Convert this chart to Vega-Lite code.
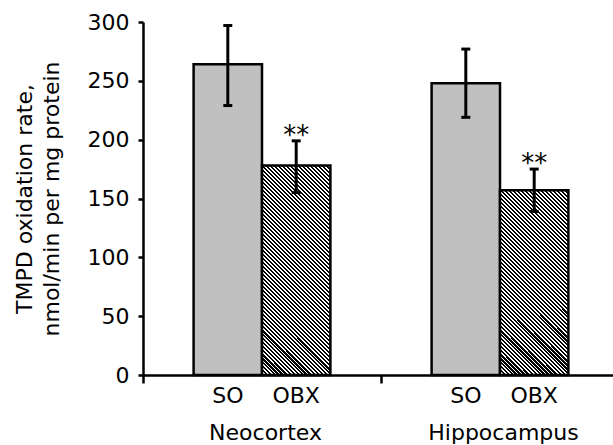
{
 "$schema": "https://vega.github.io/schema/vega-lite/v6.json",
 "width": 476,
 "height": 353,
 "autosize": {"type": "none"},
 "padding": {"left": 143, "top": 22, "right": -6, "bottom": 70},
 "background": "white",
 "config": {
  "view": {"stroke": null},
  "font": "DejaVu Sans",
  "axis": {"grid": false, "domainColor": "#000", "tickColor": "#000", "labelColor": "#000", "titleColor": "#000", "domainWidth": 2.5, "tickWidth": 2.5, "labelFontSize": 22, "titleFontSize": 22, "titleFontWeight": "normal", "labelFont": "DejaVu Sans", "titleFont": "DejaVu Sans"}
 },
 "data": {"values": [
  {"region": "Neocortex", "cond": "SO", "value": 264, "lo": 229, "hi": 297, "sig": ""},
  {"region": "Neocortex", "cond": "OBX", "value": 178, "lo": 155, "hi": 199, "sig": "**"},
  {"region": "Hippocampus", "cond": "SO", "value": 248, "lo": 219, "hi": 277, "sig": ""},
  {"region": "Hippocampus", "cond": "OBX", "value": 157, "lo": 139, "hi": 175, "sig": "**"}
 ]},
 "encoding": {
  "x": {"field": "region", "type": "nominal", "sort": ["Neocortex", "Hippocampus"],
        "scale": {"domain": ["Neocortex", "Hippocampus"], "paddingInner": 0, "paddingOuter": 0},
        "axis": {"title": null, "labelAngle": 0, "tickBand": "extent", "tickSize": 8, "labelPadding": 39, "labelOffset": 3}},
  "xOffset": {"field": "cond", "type": "nominal", "sort": ["SO", "OBX"], "scale": {"domain": ["SO", "OBX"], "paddingInner": 0, "paddingOuter": 0.74}}
 },
 "layer": [
  {"transform": [{"filter": "datum.cond === 'SO'"}],
   "mark": {"type": "bar", "fill": "#c0c0c0", "stroke": "#000", "strokeWidth": 2.5},
   "encoding": {"y": {"field": "value", "type": "quantitative", "stack": null, "scale": {"domain": [0, 300], "nice": false},
     "axis": {"title": ["TMPD oxidation rate,", "nmol/min per mg protein"], "values": [0, 50, 100, 150, 200, 250, 300], "tickSize": 5, "labelPadding": 9, "titlePadding": 24, "titleLineHeight": 27}}}},
  {"transform": [{"filter": "datum.cond === 'OBX' && datum.region === 'Neocortex'"}],
   "mark": {"type": "bar", "stroke": "#000", "strokeWidth": 2.5,
    "fill": {"gradient": "linear", "x1": 0, "y1": 1, "x2": 0.3946, "y2": -0.2083, "stops": [
{"offset":0,"color":"#000"},{"offset":0.0086,"color":"#000"},{"offset":0.0086,"color":"#fff"},{"offset":0.0143,"color":"#fff"},
{"offset":0.0143,"color":"#000"},{"offset":0.0229,"color":"#000"},{"offset":0.0229,"color":"#fff"},{"offset":0.0286,"color":"#fff"},
{"offset":0.0286,"color":"#000"},{"offset":0.0371,"color":"#000"},{"offset":0.0371,"color":"#fff"},{"offset":0.0429,"color":"#fff"},
{"offset":0.0429,"color":"#000"},{"offset":0.0514,"color":"#000"},{"offset":0.0514,"color":"#fff"},{"offset":0.0571,"color":"#fff"},
{"offset":0.0571,"color":"#000"},{"offset":0.0657,"color":"#000"},{"offset":0.0657,"color":"#fff"},{"offset":0.0714,"color":"#fff"},
{"offset":0.0714,"color":"#000"},{"offset":0.08,"color":"#000"},{"offset":0.08,"color":"#fff"},{"offset":0.0857,"color":"#fff"},
{"offset":0.0857,"color":"#000"},{"offset":0.0943,"color":"#000"},{"offset":0.0943,"color":"#fff"},{"offset":0.1,"color":"#fff"},
{"offset":0.1,"color":"#000"},{"offset":0.1086,"color":"#000"},{"offset":0.1086,"color":"#fff"},{"offset":0.1143,"color":"#fff"},
{"offset":0.1143,"color":"#000"},{"offset":0.1229,"color":"#000"},{"offset":0.1229,"color":"#fff"},{"offset":0.1286,"color":"#fff"},
{"offset":0.1286,"color":"#000"},{"offset":0.1371,"color":"#000"},{"offset":0.1371,"color":"#fff"},{"offset":0.1429,"color":"#fff"},
{"offset":0.1429,"color":"#000"},{"offset":0.1514,"color":"#000"},{"offset":0.1514,"color":"#fff"},{"offset":0.1571,"color":"#fff"},
{"offset":0.1571,"color":"#000"},{"offset":0.1657,"color":"#000"},{"offset":0.1657,"color":"#fff"},{"offset":0.1714,"color":"#fff"},
{"offset":0.1714,"color":"#000"},{"offset":0.18,"color":"#000"},{"offset":0.18,"color":"#fff"},{"offset":0.1857,"color":"#fff"},
{"offset":0.1857,"color":"#000"},{"offset":0.1943,"color":"#000"},{"offset":0.1943,"color":"#fff"},{"offset":0.2,"color":"#fff"},
{"offset":0.2,"color":"#000"},{"offset":0.2086,"color":"#000"},{"offset":0.2086,"color":"#fff"},{"offset":0.2143,"color":"#fff"},
{"offset":0.2143,"color":"#000"},{"offset":0.2229,"color":"#000"},{"offset":0.2229,"color":"#fff"},{"offset":0.2286,"color":"#fff"},
{"offset":0.2286,"color":"#000"},{"offset":0.2371,"color":"#000"},{"offset":0.2371,"color":"#fff"},{"offset":0.2429,"color":"#fff"},
{"offset":0.2429,"color":"#000"},{"offset":0.2514,"color":"#000"},{"offset":0.2514,"color":"#fff"},{"offset":0.2571,"color":"#fff"},
{"offset":0.2571,"color":"#000"},{"offset":0.2657,"color":"#000"},{"offset":0.2657,"color":"#fff"},{"offset":0.2714,"color":"#fff"},
{"offset":0.2714,"color":"#000"},{"offset":0.28,"color":"#000"},{"offset":0.28,"color":"#fff"},{"offset":0.2857,"color":"#fff"},
{"offset":0.2857,"color":"#000"},{"offset":0.2943,"color":"#000"},{"offset":0.2943,"color":"#fff"},{"offset":0.3,"color":"#fff"},
{"offset":0.3,"color":"#000"},{"offset":0.3086,"color":"#000"},{"offset":0.3086,"color":"#fff"},{"offset":0.3143,"color":"#fff"},
{"offset":0.3143,"color":"#000"},{"offset":0.3229,"color":"#000"},{"offset":0.3229,"color":"#fff"},{"offset":0.3286,"color":"#fff"},
{"offset":0.3286,"color":"#000"},{"offset":0.3371,"color":"#000"},{"offset":0.3371,"color":"#fff"},{"offset":0.3429,"color":"#fff"},
{"offset":0.3429,"color":"#000"},{"offset":0.3514,"color":"#000"},{"offset":0.3514,"color":"#fff"},{"offset":0.3571,"color":"#fff"},
{"offset":0.3571,"color":"#000"},{"offset":0.3657,"color":"#000"},{"offset":0.3657,"color":"#fff"},{"offset":0.3714,"color":"#fff"},
{"offset":0.3714,"color":"#000"},{"offset":0.38,"color":"#000"},{"offset":0.38,"color":"#fff"},{"offset":0.3857,"color":"#fff"},
{"offset":0.3857,"color":"#000"},{"offset":0.3943,"color":"#000"},{"offset":0.3943,"color":"#fff"},{"offset":0.4,"color":"#fff"},
{"offset":0.4,"color":"#000"},{"offset":0.4086,"color":"#000"},{"offset":0.4086,"color":"#fff"},{"offset":0.4143,"color":"#fff"},
{"offset":0.4143,"color":"#000"},{"offset":0.4229,"color":"#000"},{"offset":0.4229,"color":"#fff"},{"offset":0.4286,"color":"#fff"},
{"offset":0.4286,"color":"#000"},{"offset":0.4371,"color":"#000"},{"offset":0.4371,"color":"#fff"},{"offset":0.4429,"color":"#fff"},
{"offset":0.4429,"color":"#000"},{"offset":0.4514,"color":"#000"},{"offset":0.4514,"color":"#fff"},{"offset":0.4571,"color":"#fff"},
{"offset":0.4571,"color":"#000"},{"offset":0.4657,"color":"#000"},{"offset":0.4657,"color":"#fff"},{"offset":0.4714,"color":"#fff"},
{"offset":0.4714,"color":"#000"},{"offset":0.48,"color":"#000"},{"offset":0.48,"color":"#fff"},{"offset":0.4857,"color":"#fff"},
{"offset":0.4857,"color":"#000"},{"offset":0.4943,"color":"#000"},{"offset":0.4943,"color":"#fff"},{"offset":0.5,"color":"#fff"},
{"offset":0.5,"color":"#000"},{"offset":0.5086,"color":"#000"},{"offset":0.5086,"color":"#fff"},{"offset":0.5143,"color":"#fff"},
{"offset":0.5143,"color":"#000"},{"offset":0.5229,"color":"#000"},{"offset":0.5229,"color":"#fff"},{"offset":0.5286,"color":"#fff"},
{"offset":0.5286,"color":"#000"},{"offset":0.5371,"color":"#000"},{"offset":0.5371,"color":"#fff"},{"offset":0.5429,"color":"#fff"},
{"offset":0.5429,"color":"#000"},{"offset":0.5514,"color":"#000"},{"offset":0.5514,"color":"#fff"},{"offset":0.5571,"color":"#fff"},
{"offset":0.5571,"color":"#000"},{"offset":0.5657,"color":"#000"},{"offset":0.5657,"color":"#fff"},{"offset":0.5714,"color":"#fff"},
{"offset":0.5714,"color":"#000"},{"offset":0.58,"color":"#000"},{"offset":0.58,"color":"#fff"},{"offset":0.5857,"color":"#fff"},
{"offset":0.5857,"color":"#000"},{"offset":0.5943,"color":"#000"},{"offset":0.5943,"color":"#fff"},{"offset":0.6,"color":"#fff"},
{"offset":0.6,"color":"#000"},{"offset":0.6086,"color":"#000"},{"offset":0.6086,"color":"#fff"},{"offset":0.6143,"color":"#fff"},
{"offset":0.6143,"color":"#000"},{"offset":0.6229,"color":"#000"},{"offset":0.6229,"color":"#fff"},{"offset":0.6286,"color":"#fff"},
{"offset":0.6286,"color":"#000"},{"offset":0.6371,"color":"#000"},{"offset":0.6371,"color":"#fff"},{"offset":0.6429,"color":"#fff"},
{"offset":0.6429,"color":"#000"},{"offset":0.6514,"color":"#000"},{"offset":0.6514,"color":"#fff"},{"offset":0.6571,"color":"#fff"},
{"offset":0.6571,"color":"#000"},{"offset":0.6657,"color":"#000"},{"offset":0.6657,"color":"#fff"},{"offset":0.6714,"color":"#fff"},
{"offset":0.6714,"color":"#000"},{"offset":0.68,"color":"#000"},{"offset":0.68,"color":"#fff"},{"offset":0.6857,"color":"#fff"},
{"offset":0.6857,"color":"#000"},{"offset":0.6943,"color":"#000"},{"offset":0.6943,"color":"#fff"},{"offset":0.7,"color":"#fff"},
{"offset":0.7,"color":"#000"},{"offset":0.7086,"color":"#000"},{"offset":0.7086,"color":"#fff"},{"offset":0.7143,"color":"#fff"},
{"offset":0.7143,"color":"#000"},{"offset":0.7229,"color":"#000"},{"offset":0.7229,"color":"#fff"},{"offset":0.7286,"color":"#fff"},
{"offset":0.7286,"color":"#000"},{"offset":0.7371,"color":"#000"},{"offset":0.7371,"color":"#fff"},{"offset":0.7429,"color":"#fff"},
{"offset":0.7429,"color":"#000"},{"offset":0.7514,"color":"#000"},{"offset":0.7514,"color":"#fff"},{"offset":0.7571,"color":"#fff"},
{"offset":0.7571,"color":"#000"},{"offset":0.7657,"color":"#000"},{"offset":0.7657,"color":"#fff"},{"offset":0.7714,"color":"#fff"},
{"offset":0.7714,"color":"#000"},{"offset":0.78,"color":"#000"},{"offset":0.78,"color":"#fff"},{"offset":0.7857,"color":"#fff"},
{"offset":0.7857,"color":"#000"},{"offset":0.7943,"color":"#000"},{"offset":0.7943,"color":"#fff"},{"offset":0.8,"color":"#fff"},
{"offset":0.8,"color":"#000"},{"offset":0.8086,"color":"#000"},{"offset":0.8086,"color":"#fff"},{"offset":0.8143,"color":"#fff"},
{"offset":0.8143,"color":"#000"},{"offset":0.8229,"color":"#000"},{"offset":0.8229,"color":"#fff"},{"offset":0.8286,"color":"#fff"},
{"offset":0.8286,"color":"#000"},{"offset":0.8371,"color":"#000"},{"offset":0.8371,"color":"#fff"},{"offset":0.8429,"color":"#fff"},
{"offset":0.8429,"color":"#000"},{"offset":0.8514,"color":"#000"},{"offset":0.8514,"color":"#fff"},{"offset":0.8571,"color":"#fff"},
{"offset":0.8571,"color":"#000"},{"offset":0.8657,"color":"#000"},{"offset":0.8657,"color":"#fff"},{"offset":0.8714,"color":"#fff"},
{"offset":0.8714,"color":"#000"},{"offset":0.88,"color":"#000"},{"offset":0.88,"color":"#fff"},{"offset":0.8857,"color":"#fff"},
{"offset":0.8857,"color":"#000"},{"offset":0.8943,"color":"#000"},{"offset":0.8943,"color":"#fff"},{"offset":0.9,"color":"#fff"},
{"offset":0.9,"color":"#000"},{"offset":0.9086,"color":"#000"},{"offset":0.9086,"color":"#fff"},{"offset":0.9143,"color":"#fff"},
{"offset":0.9143,"color":"#000"},{"offset":0.9229,"color":"#000"},{"offset":0.9229,"color":"#fff"},{"offset":0.9286,"color":"#fff"},
{"offset":0.9286,"color":"#000"},{"offset":0.9371,"color":"#000"},{"offset":0.9371,"color":"#fff"},{"offset":0.9429,"color":"#fff"},
{"offset":0.9429,"color":"#000"},{"offset":0.9514,"color":"#000"},{"offset":0.9514,"color":"#fff"},{"offset":0.9571,"color":"#fff"},
{"offset":0.9571,"color":"#000"},{"offset":0.9657,"color":"#000"},{"offset":0.9657,"color":"#fff"},{"offset":0.9714,"color":"#fff"},
{"offset":0.9714,"color":"#000"},{"offset":0.98,"color":"#000"},{"offset":0.98,"color":"#fff"},{"offset":0.9857,"color":"#fff"},
{"offset":0.9857,"color":"#000"},{"offset":0.9943,"color":"#000"},{"offset":0.9943,"color":"#fff"},{"offset":1,"color":"#fff"}
    ]}},
   "encoding": {"y": {"field": "value", "type": "quantitative", "stack": null}}},
  {"transform": [{"filter": "datum.cond === 'OBX' && datum.region === 'Hippocampus'"}],
   "mark": {"type": "bar", "stroke": "#000", "strokeWidth": 2.5,
    "fill": {"gradient": "linear", "x1": 0, "y1": 1, "x2": 0.4937, "y2": -0.3332, "stops": [
{"offset":0,"color":"#000"},{"offset":0.0086,"color":"#000"},{"offset":0.0086,"color":"#fff"},{"offset":0.0143,"color":"#fff"},
{"offset":0.0143,"color":"#000"},{"offset":0.0229,"color":"#000"},{"offset":0.0229,"color":"#fff"},{"offset":0.0286,"color":"#fff"},
{"offset":0.0286,"color":"#000"},{"offset":0.0371,"color":"#000"},{"offset":0.0371,"color":"#fff"},{"offset":0.0429,"color":"#fff"},
{"offset":0.0429,"color":"#000"},{"offset":0.0514,"color":"#000"},{"offset":0.0514,"color":"#fff"},{"offset":0.0571,"color":"#fff"},
{"offset":0.0571,"color":"#000"},{"offset":0.0657,"color":"#000"},{"offset":0.0657,"color":"#fff"},{"offset":0.0714,"color":"#fff"},
{"offset":0.0714,"color":"#000"},{"offset":0.08,"color":"#000"},{"offset":0.08,"color":"#fff"},{"offset":0.0857,"color":"#fff"},
{"offset":0.0857,"color":"#000"},{"offset":0.0943,"color":"#000"},{"offset":0.0943,"color":"#fff"},{"offset":0.1,"color":"#fff"},
{"offset":0.1,"color":"#000"},{"offset":0.1086,"color":"#000"},{"offset":0.1086,"color":"#fff"},{"offset":0.1143,"color":"#fff"},
{"offset":0.1143,"color":"#000"},{"offset":0.1229,"color":"#000"},{"offset":0.1229,"color":"#fff"},{"offset":0.1286,"color":"#fff"},
{"offset":0.1286,"color":"#000"},{"offset":0.1371,"color":"#000"},{"offset":0.1371,"color":"#fff"},{"offset":0.1429,"color":"#fff"},
{"offset":0.1429,"color":"#000"},{"offset":0.1514,"color":"#000"},{"offset":0.1514,"color":"#fff"},{"offset":0.1571,"color":"#fff"},
{"offset":0.1571,"color":"#000"},{"offset":0.1657,"color":"#000"},{"offset":0.1657,"color":"#fff"},{"offset":0.1714,"color":"#fff"},
{"offset":0.1714,"color":"#000"},{"offset":0.18,"color":"#000"},{"offset":0.18,"color":"#fff"},{"offset":0.1857,"color":"#fff"},
{"offset":0.1857,"color":"#000"},{"offset":0.1943,"color":"#000"},{"offset":0.1943,"color":"#fff"},{"offset":0.2,"color":"#fff"},
{"offset":0.2,"color":"#000"},{"offset":0.2086,"color":"#000"},{"offset":0.2086,"color":"#fff"},{"offset":0.2143,"color":"#fff"},
{"offset":0.2143,"color":"#000"},{"offset":0.2229,"color":"#000"},{"offset":0.2229,"color":"#fff"},{"offset":0.2286,"color":"#fff"},
{"offset":0.2286,"color":"#000"},{"offset":0.2371,"color":"#000"},{"offset":0.2371,"color":"#fff"},{"offset":0.2429,"color":"#fff"},
{"offset":0.2429,"color":"#000"},{"offset":0.2514,"color":"#000"},{"offset":0.2514,"color":"#fff"},{"offset":0.2571,"color":"#fff"},
{"offset":0.2571,"color":"#000"},{"offset":0.2657,"color":"#000"},{"offset":0.2657,"color":"#fff"},{"offset":0.2714,"color":"#fff"},
{"offset":0.2714,"color":"#000"},{"offset":0.28,"color":"#000"},{"offset":0.28,"color":"#fff"},{"offset":0.2857,"color":"#fff"},
{"offset":0.2857,"color":"#000"},{"offset":0.2943,"color":"#000"},{"offset":0.2943,"color":"#fff"},{"offset":0.3,"color":"#fff"},
{"offset":0.3,"color":"#000"},{"offset":0.3086,"color":"#000"},{"offset":0.3086,"color":"#fff"},{"offset":0.3143,"color":"#fff"},
{"offset":0.3143,"color":"#000"},{"offset":0.3229,"color":"#000"},{"offset":0.3229,"color":"#fff"},{"offset":0.3286,"color":"#fff"},
{"offset":0.3286,"color":"#000"},{"offset":0.3371,"color":"#000"},{"offset":0.3371,"color":"#fff"},{"offset":0.3429,"color":"#fff"},
{"offset":0.3429,"color":"#000"},{"offset":0.3514,"color":"#000"},{"offset":0.3514,"color":"#fff"},{"offset":0.3571,"color":"#fff"},
{"offset":0.3571,"color":"#000"},{"offset":0.3657,"color":"#000"},{"offset":0.3657,"color":"#fff"},{"offset":0.3714,"color":"#fff"},
{"offset":0.3714,"color":"#000"},{"offset":0.38,"color":"#000"},{"offset":0.38,"color":"#fff"},{"offset":0.3857,"color":"#fff"},
{"offset":0.3857,"color":"#000"},{"offset":0.3943,"color":"#000"},{"offset":0.3943,"color":"#fff"},{"offset":0.4,"color":"#fff"},
{"offset":0.4,"color":"#000"},{"offset":0.4086,"color":"#000"},{"offset":0.4086,"color":"#fff"},{"offset":0.4143,"color":"#fff"},
{"offset":0.4143,"color":"#000"},{"offset":0.4229,"color":"#000"},{"offset":0.4229,"color":"#fff"},{"offset":0.4286,"color":"#fff"},
{"offset":0.4286,"color":"#000"},{"offset":0.4371,"color":"#000"},{"offset":0.4371,"color":"#fff"},{"offset":0.4429,"color":"#fff"},
{"offset":0.4429,"color":"#000"},{"offset":0.4514,"color":"#000"},{"offset":0.4514,"color":"#fff"},{"offset":0.4571,"color":"#fff"},
{"offset":0.4571,"color":"#000"},{"offset":0.4657,"color":"#000"},{"offset":0.4657,"color":"#fff"},{"offset":0.4714,"color":"#fff"},
{"offset":0.4714,"color":"#000"},{"offset":0.48,"color":"#000"},{"offset":0.48,"color":"#fff"},{"offset":0.4857,"color":"#fff"},
{"offset":0.4857,"color":"#000"},{"offset":0.4943,"color":"#000"},{"offset":0.4943,"color":"#fff"},{"offset":0.5,"color":"#fff"},
{"offset":0.5,"color":"#000"},{"offset":0.5086,"color":"#000"},{"offset":0.5086,"color":"#fff"},{"offset":0.5143,"color":"#fff"},
{"offset":0.5143,"color":"#000"},{"offset":0.5229,"color":"#000"},{"offset":0.5229,"color":"#fff"},{"offset":0.5286,"color":"#fff"},
{"offset":0.5286,"color":"#000"},{"offset":0.5371,"color":"#000"},{"offset":0.5371,"color":"#fff"},{"offset":0.5429,"color":"#fff"},
{"offset":0.5429,"color":"#000"},{"offset":0.5514,"color":"#000"},{"offset":0.5514,"color":"#fff"},{"offset":0.5571,"color":"#fff"},
{"offset":0.5571,"color":"#000"},{"offset":0.5657,"color":"#000"},{"offset":0.5657,"color":"#fff"},{"offset":0.5714,"color":"#fff"},
{"offset":0.5714,"color":"#000"},{"offset":0.58,"color":"#000"},{"offset":0.58,"color":"#fff"},{"offset":0.5857,"color":"#fff"},
{"offset":0.5857,"color":"#000"},{"offset":0.5943,"color":"#000"},{"offset":0.5943,"color":"#fff"},{"offset":0.6,"color":"#fff"},
{"offset":0.6,"color":"#000"},{"offset":0.6086,"color":"#000"},{"offset":0.6086,"color":"#fff"},{"offset":0.6143,"color":"#fff"},
{"offset":0.6143,"color":"#000"},{"offset":0.6229,"color":"#000"},{"offset":0.6229,"color":"#fff"},{"offset":0.6286,"color":"#fff"},
{"offset":0.6286,"color":"#000"},{"offset":0.6371,"color":"#000"},{"offset":0.6371,"color":"#fff"},{"offset":0.6429,"color":"#fff"},
{"offset":0.6429,"color":"#000"},{"offset":0.6514,"color":"#000"},{"offset":0.6514,"color":"#fff"},{"offset":0.6571,"color":"#fff"},
{"offset":0.6571,"color":"#000"},{"offset":0.6657,"color":"#000"},{"offset":0.6657,"color":"#fff"},{"offset":0.6714,"color":"#fff"},
{"offset":0.6714,"color":"#000"},{"offset":0.68,"color":"#000"},{"offset":0.68,"color":"#fff"},{"offset":0.6857,"color":"#fff"},
{"offset":0.6857,"color":"#000"},{"offset":0.6943,"color":"#000"},{"offset":0.6943,"color":"#fff"},{"offset":0.7,"color":"#fff"},
{"offset":0.7,"color":"#000"},{"offset":0.7086,"color":"#000"},{"offset":0.7086,"color":"#fff"},{"offset":0.7143,"color":"#fff"},
{"offset":0.7143,"color":"#000"},{"offset":0.7229,"color":"#000"},{"offset":0.7229,"color":"#fff"},{"offset":0.7286,"color":"#fff"},
{"offset":0.7286,"color":"#000"},{"offset":0.7371,"color":"#000"},{"offset":0.7371,"color":"#fff"},{"offset":0.7429,"color":"#fff"},
{"offset":0.7429,"color":"#000"},{"offset":0.7514,"color":"#000"},{"offset":0.7514,"color":"#fff"},{"offset":0.7571,"color":"#fff"},
{"offset":0.7571,"color":"#000"},{"offset":0.7657,"color":"#000"},{"offset":0.7657,"color":"#fff"},{"offset":0.7714,"color":"#fff"},
{"offset":0.7714,"color":"#000"},{"offset":0.78,"color":"#000"},{"offset":0.78,"color":"#fff"},{"offset":0.7857,"color":"#fff"},
{"offset":0.7857,"color":"#000"},{"offset":0.7943,"color":"#000"},{"offset":0.7943,"color":"#fff"},{"offset":0.8,"color":"#fff"},
{"offset":0.8,"color":"#000"},{"offset":0.8086,"color":"#000"},{"offset":0.8086,"color":"#fff"},{"offset":0.8143,"color":"#fff"},
{"offset":0.8143,"color":"#000"},{"offset":0.8229,"color":"#000"},{"offset":0.8229,"color":"#fff"},{"offset":0.8286,"color":"#fff"},
{"offset":0.8286,"color":"#000"},{"offset":0.8371,"color":"#000"},{"offset":0.8371,"color":"#fff"},{"offset":0.8429,"color":"#fff"},
{"offset":0.8429,"color":"#000"},{"offset":0.8514,"color":"#000"},{"offset":0.8514,"color":"#fff"},{"offset":0.8571,"color":"#fff"},
{"offset":0.8571,"color":"#000"},{"offset":0.8657,"color":"#000"},{"offset":0.8657,"color":"#fff"},{"offset":0.8714,"color":"#fff"},
{"offset":0.8714,"color":"#000"},{"offset":0.88,"color":"#000"},{"offset":0.88,"color":"#fff"},{"offset":0.8857,"color":"#fff"},
{"offset":0.8857,"color":"#000"},{"offset":0.8943,"color":"#000"},{"offset":0.8943,"color":"#fff"},{"offset":0.9,"color":"#fff"},
{"offset":0.9,"color":"#000"},{"offset":0.9086,"color":"#000"},{"offset":0.9086,"color":"#fff"},{"offset":0.9143,"color":"#fff"},
{"offset":0.9143,"color":"#000"},{"offset":0.9229,"color":"#000"},{"offset":0.9229,"color":"#fff"},{"offset":0.9286,"color":"#fff"},
{"offset":0.9286,"color":"#000"},{"offset":0.9371,"color":"#000"},{"offset":0.9371,"color":"#fff"},{"offset":0.9429,"color":"#fff"},
{"offset":0.9429,"color":"#000"},{"offset":0.9514,"color":"#000"},{"offset":0.9514,"color":"#fff"},{"offset":0.9571,"color":"#fff"},
{"offset":0.9571,"color":"#000"},{"offset":0.9657,"color":"#000"},{"offset":0.9657,"color":"#fff"},{"offset":0.9714,"color":"#fff"},
{"offset":0.9714,"color":"#000"},{"offset":0.98,"color":"#000"},{"offset":0.98,"color":"#fff"},{"offset":0.9857,"color":"#fff"},
{"offset":0.9857,"color":"#000"},{"offset":0.9943,"color":"#000"},{"offset":0.9943,"color":"#fff"},{"offset":1,"color":"#fff"}
    ]}},
   "encoding": {"y": {"field": "value", "type": "quantitative", "stack": null}}},
  {"mark": {"type": "rule", "stroke": "#000", "strokeWidth": 3},
   "encoding": {"y": {"field": "lo", "type": "quantitative"}, "y2": {"field": "hi"}}},
  {"mark": {"type": "tick", "orient": "horizontal", "size": 9, "thickness": 3, "color": "#000", "opacity": 1},
   "encoding": {"y": {"field": "lo", "type": "quantitative"}}},
  {"mark": {"type": "tick", "orient": "horizontal", "size": 9, "thickness": 3, "color": "#000", "opacity": 1},
   "encoding": {"y": {"field": "hi", "type": "quantitative"}}},
  {"mark": {"type": "text", "fontSize": 26, "dy": 3, "baseline": "alphabetic", "color": "#000", "font": "DejaVu Sans"},
   "encoding": {"y": {"field": "hi", "type": "quantitative"}, "text": {"field": "sig"}}},
  {"mark": {"type": "text", "fontSize": 22, "dy": 28, "baseline": "alphabetic", "color": "#000", "font": "DejaVu Sans"},
   "encoding": {"y": {"datum": 0}, "text": {"field": "cond"}}}
 ]
}
